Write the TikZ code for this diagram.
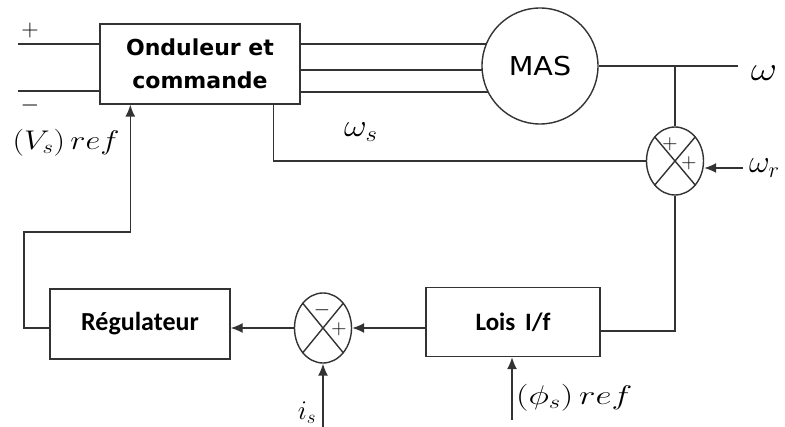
\RequirePackage{fix-cm}
\documentclass[tikz,border=0pt]{standalone}
\usepackage{fontspec}
\newfontfamily\comicf{DejaVu Sans}
\newfontfamily\calibf{Carlito}
\usetikzlibrary{arrows.meta,shapes.geometric,backgrounds,calc}
\tikzset{
  ln/.style={line width=1.4pt,draw=black!80},
  blk/.style={draw=black!80,line width=1.4pt,fill=white,rectangle,inner sep=0pt},
  summer/.style={draw=black!80,line width=1.4pt,fill=white,ellipse,inner sep=0pt,minimum width=57pt,minimum height=68pt},
  arr/.style={ln,-{Latex[length=12pt,width=10pt]}},
  sgn/.style={font=\fontsize{21}{21}\selectfont,inner sep=0pt},
  mlab/.style={font=\fontsize{27}{27}\selectfont,inner sep=0pt}
}
\begin{document}
\begin{tikzpicture}[x=1pt,y=-1pt]
\useasboundingbox (0,0) rectangle (785,427);
% blocks
\node[blk,minimum width=200pt,minimum height=80pt,align=center,
  font=\comicf\bfseries\fontsize{22}{33}\selectfont] (ond) at (200,64) {Onduleur et\\commande};
\node[draw=black!80,line width=1.4pt,fill=white,circle,minimum size=116pt,inner sep=0pt,
  font=\comicf\fontsize{26}{26}\selectfont] (mas) at (540,66) {\scalebox{1.1}[1]{MAS}};
\node[summer] (s1) at (675,161) {};
\node[blk,minimum width=174pt,minimum height=69pt,font=\calibf\bfseries\fontsize{25}{25}\selectfont] (lois) at (513,322) {Lois\, I/f};
\node[summer,minimum height=70pt] (s2) at (323,328) {};
\node[blk,minimum width=180pt,minimum height=70pt,font=\calibf\bfseries\fontsize{26}{26}\selectfont] (reg) at (140,324) {Régulateur};
% summer crosses and signs
\draw[ln] (s1.north west) -- (s1.south east) (s1.north east) -- (s1.south west);
\draw[ln] (s2.north west) -- (s2.south east) (s2.north east) -- (s2.south west);
\node[sgn] (p1) at (670,144) {+};
\node[sgn] (p2) at (689,163) {+};
\node[sgn] (m3) at (322,310) {$-$};
\node[sgn] (p4) at (339,329) {+};
% coordinates
\coordinate (pin) at (18,44);
\coordinate (nin) at (18,91);
\coordinate (wout) at (738,66);
\coordinate (wr) at (743,168);
\coordinate (c1) at (24,232);
\coordinate (vin) at ($(ond.south west)+(31,0)$);
\coordinate (wsb) at ($(ond.south east)+(-27,0)$);
\coordinate (isb) at (323,427);
\coordinate (phb) at (512,420);
\begin{scope}[on background layer]
\draw[ln] (pin) -- (ond.west |- pin);
\draw[ln] (nin) -- (ond.west |- nin);
\draw[ln] (ond.east |- 0,44) -- (mas.center |- 0,44);
\draw[ln] (ond.east |- 0,70) -- (mas.center |- 0,70);
\draw[ln] (ond.east |- 0,92) -- (mas.center |- 0,92);
\end{scope}
\draw[ln] (mas.east) -- (wout);
\draw[ln] (s1.north) -- (s1.north |- mas.east);
\draw[ln] (wsb) |- (s1.west);
\draw[arr] (wr) -- (s1.east |- wr);
\draw[ln] (s1.south) |- (lois.east |- 0,331);
\draw[arr] (lois.west |- s2) -- (s2.east);
\draw[arr] (s2.west) -- (reg.east |- s2);
\draw[arr] (reg.west |- s2) -| (c1) -| (vin);
\draw[arr] (isb) -- (s2.south);
\draw[arr] (phb) -- (lois.south -| phb);
% labels
\node[font=\fontsize{24}{24}\selectfont,inner sep=0pt] (plus) at (30,31) {+};
\node[font=\fontsize{24}{24}\selectfont,inner sep=0pt] (minus) at (30,106) {$-$};
\node[mlab] (vref) at (66,143) {\scalebox{1.2}[1]{$(V_{s})\,ref$}};
\node[mlab,font=\fontsize{34}{34}\selectfont] (w) at (764,73) {\scalebox{1.2}[1]{$\omega$}};
\node[mlab,font=\fontsize{32}{32}\selectfont,anchor=west] (ws) at (344,132) {\scalebox{1.1}[1]{$\omega_{s}$}};
\node[mlab,font=\fontsize{32}{32}\selectfont,anchor=west] (wrl) at (749,168) {$\omega_{r}$};
\node[mlab] (isl) at (307,413) {$i_{s}$};
\node[mlab,anchor=west] (phl) at (516,398) {\scalebox{1.3}[1]{$(\phi_{s})\,ref$}};
\end{tikzpicture}
\end{document}
